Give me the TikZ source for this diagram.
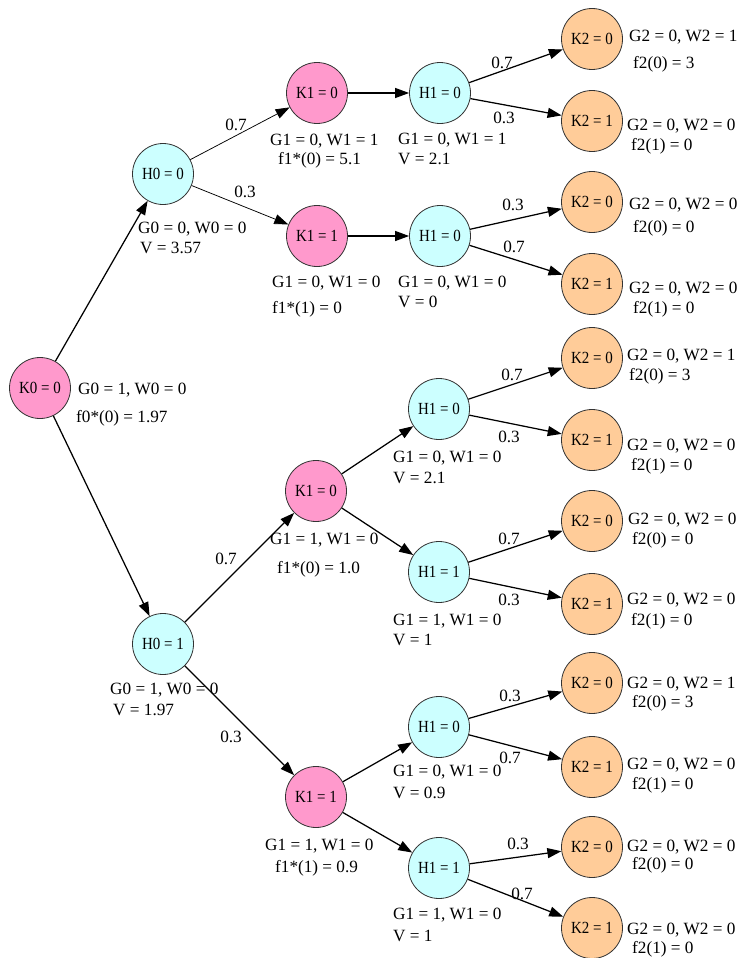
\documentclass[tikz,border=0pt]{standalone}
\usepackage{fontspec}
\setmainfont{Liberation Serif}
\usetikzlibrary{arrows.meta}

\definecolor{kpink}{HTML}{FF99CC}
\definecolor{hcyan}{HTML}{CCFFFF}
\definecolor{korange}{HTML}{FFCC99}
\definecolor{rim}{HTML}{333333}

% state text inside the circles is set slightly condensed
\newcommand{\stxt}[1]{\scalebox{0.88}[1]{#1}}

\tikzset{
  state/.style={circle, draw=rim, line width=0.8pt, minimum size=61pt, inner sep=0pt,
                font=\fontsize{17}{17}\selectfont},
  kstate/.style={state, fill=kpink},
  hstate/.style={state, fill=hcyan},
  fstate/.style={state, fill=korange},
  arr/.style={line width=1.25pt, -{Triangle[length=14pt,width=10pt]}},
  thinarr/.style={line width=0.75pt, -{Triangle[length=14pt,width=10pt]}},
  info/.style={anchor=base west, inner sep=0pt, font=\fontsize{17.2}{17}\selectfont},
  prob/.style={anchor=base, inner sep=0pt, font=\fontsize{17.2}{17}\selectfont}
}

\begin{document}
\begin{tikzpicture}[x=1pt,y=-1pt]
\useasboundingbox (0,0) rectangle (741,958);

% ---- states ----
\node[kstate] (K0)  at (40,388)  {\stxt{K0 = 0}};
\node[hstate] (H0a) at (163,174) {\stxt{H0 = 0}};
\node[hstate] (H0b) at (163,644) {\stxt{H0 = 1}};

\node[kstate] (K1a) at (317,93)  {\stxt{K1 = 0}};
\node[kstate] (K1b) at (317,236) {\stxt{K1 = 1}};
\node[kstate] (K1c) at (316,491) {\stxt{K1 = 0}};
\node[kstate] (K1d) at (316,797) {\stxt{K1 = 1}};

\node[hstate] (H1a) at (440,93)  {\stxt{H1 = 0}};
\node[hstate] (H1b) at (440,236) {\stxt{H1 = 0}};
\node[hstate] (H1c) at (439,409) {\stxt{H1 = 0}};
\node[hstate] (H1d) at (439,572) {\stxt{H1 = 1}};
\node[hstate] (H1e) at (439,727) {\stxt{H1 = 0}};
\node[hstate] (H1f) at (439,868) {\stxt{H1 = 1}};

\node[fstate] (K2a) at (592,39)  {\stxt{K2 = 0}};
\node[fstate] (K2b) at (592,121) {\stxt{K2 = 1}};
\node[fstate] (K2c) at (592,202) {\stxt{K2 = 0}};
\node[fstate] (K2d) at (592,284) {\stxt{K2 = 1}};
\node[fstate] (K2e) at (592,358) {\stxt{K2 = 0}};
\node[fstate] (K2f) at (592,440) {\stxt{K2 = 1}};
\node[fstate] (K2g) at (592,521) {\stxt{K2 = 0}};
\node[fstate] (K2h) at (592,604) {\stxt{K2 = 1}};
\node[fstate] (K2i) at (592,683) {\stxt{K2 = 0}};
\node[fstate] (K2j) at (592,767) {\stxt{K2 = 1}};
\node[fstate] (K2k) at (592,847) {\stxt{K2 = 0}};
\node[fstate] (K2l) at (592,928) {\stxt{K2 = 1}};

% ---- transitions ----
\draw[arr] (K0) -- (H0a);
\draw[arr] (K0) -- (H0b);

\draw[thinarr] (H0a) -- (K1a);
\draw[thinarr] (H0a) -- (K1b);
\draw[arr] (K1a) -- (H1a);
\draw[arr] (K1b) -- (H1b);
\draw[arr] (H1a) -- (K2a);
\draw[arr] (H1a) -- (K2b);
\draw[arr] (H1b) -- (K2c);
\draw[arr] (H1b) -- (K2d);

\draw[arr] (H0b) -- (K1c);
\draw[arr] (H0b) -- (K1d);
\draw[arr] (K1c) -- (H1c);
\draw[arr] (K1c) -- (H1d);
\draw[arr] (K1d) -- (H1e);
\draw[arr] (K1d) -- (H1f);
\draw[arr] (H1c) -- (K2e);
\draw[arr] (H1c) -- (K2f);
\draw[arr] (H1d) -- (K2g);
\draw[arr] (H1d) -- (K2h);
\draw[arr] (H1e) -- (K2i);
\draw[arr] (H1e) -- (K2j);
\draw[arr] (H1f) -- (K2k);
\draw[arr] (H1f) -- (K2l);

% ---- probabilities ----
\node[prob] (p1)  at (236,130) {0.7};
\node[prob] (p2)  at (245,197) {0.3};
\node[prob] (p3)  at (502,69)  {0.7};
\node[prob] (p4)  at (504,123) {0.3};
\node[prob] (p5)  at (513,210) {0.3};
\node[prob] (p6)  at (514,252) {0.7};
\node[prob] (p7)  at (226,564) {0.7};
\node[prob] (p8)  at (231,742) {0.3};
\node[prob] (p9)  at (512,380) {0.7};
\node[prob] (p10) at (509,442) {0.3};
\node[prob] (p11) at (509,544) {0.7};
\node[prob] (p12) at (509,605) {0.3};
\node[prob] (p13) at (510,701) {0.3};
\node[prob] (p14) at (510,763) {0.7};
\node[prob] (p15) at (518,849) {0.3};
\node[prob] (p16) at (522,899) {0.7};

% ---- annotations ----
\node[info] (tK0a) at (78,394)  {G0 = 1, W0 = 0};
\node[info] (tK0b) at (76,422)  {f0*(0) = 1.97};
\node[info] (tH0a1) at (138,233) {G0 = 0, W0 = 0};
\node[info] (tH0a2) at (140,253) {V = 3.57};
\node[info] (tH0b1) at (110,694) {G0 = 1, W0 = 0};
\node[info] (tH0b2) at (113,715) {V = 1.97};

\node[info] (tK1a1) at (270,145) {G1 = 0, W1 = 1};
\node[info] (tK1a2) at (278,164) {f1*(0) = 5.1};
\node[info] (tK1b1) at (272,287) {G1 = 0, W1 = 0};
\node[info] (tK1b2) at (272,313) {f1*(1) = 0};
\node[info] (tK1c1) at (270,544) {G1 = 1, W1 = 0};
\node[info] (tK1c2) at (277,573) {f1*(0) = 1.0};
\node[info] (tK1d1) at (265,850) {G1 = 1, W1 = 0};
\node[info] (tK1d2) at (275,872) {f1*(1) = 0.9};

\node[info] (tH1a1) at (398,144) {G1 = 0, W1 = 1};
\node[info] (tH1a2) at (398,164) {V = 2.1};
\node[info] (tH1b1) at (398,287) {G1 = 0, W1 = 0};
\node[info] (tH1b2) at (398,307) {V = 0};
\node[info] (tH1c1) at (393,462) {G1 = 0, W1 = 0};
\node[info] (tH1c2) at (393,483) {V = 2.1};
\node[info] (tH1d1) at (393,625) {G1 = 1, W1 = 0};
\node[info] (tH1d2) at (393,645) {V = 1};
\node[info] (tH1e1) at (393,776) {G1 = 0, W1 = 0};
\node[info] (tH1e2) at (393,798) {V = 0.9};
\node[info] (tH1f1) at (393,919) {G1 = 1, W1 = 0};
\node[info] (tH1f2) at (393,941) {V = 1};

\node[info] (tK2a1) at (629,42)  {G2 = 0, W2 = 1};
\node[info] (tK2a2) at (633,69)  {f2(0) = 3};
\node[info] (tK2b1) at (627,130) {G2 = 0, W2 = 0};
\node[info] (tK2b2) at (631,150) {f2(1) = 0};
\node[info] (tK2c1) at (629,209) {G2 = 0, W2 = 0};
\node[info] (tK2c2) at (633,232) {f2(0) = 0};
\node[info] (tK2d1) at (629,293) {G2 = 0, W2 = 0};
\node[info] (tK2d2) at (633,313) {f2(1) = 0};
\node[info] (tK2e1) at (627,360) {G2 = 0, W2 = 1};
\node[info] (tK2e2) at (629,380) {f2(0) = 3};
\node[info] (tK2f1) at (627,450) {G2 = 0, W2 = 0};
\node[info] (tK2f2) at (631,470) {f2(1) = 0};
\node[info] (tK2g1) at (628,524) {G2 = 0, W2 = 0};
\node[info] (tK2g2) at (632,544) {f2(0) = 0};
\node[info] (tK2h1) at (627,604) {G2 = 0, W2 = 0};
\node[info] (tK2h2) at (631,625) {f2(1) = 0};
\node[info] (tK2i1) at (627,688) {G2 = 0, W2 = 1};
\node[info] (tK2i2) at (632,707) {f2(0) = 3};
\node[info] (tK2j1) at (627,769) {G2 = 0, W2 = 0};
\node[info] (tK2j2) at (632,789) {f2(1) = 0};
\node[info] (tK2k1) at (627,851) {G2 = 0, W2 = 0};
\node[info] (tK2k2) at (632,869) {f2(0) = 0};
\node[info] (tK2l1) at (627,934) {G2 = 0, W2 = 0};
\node[info] (tK2l2) at (632,953) {f2(1) = 0};
\end{tikzpicture}
\end{document}
